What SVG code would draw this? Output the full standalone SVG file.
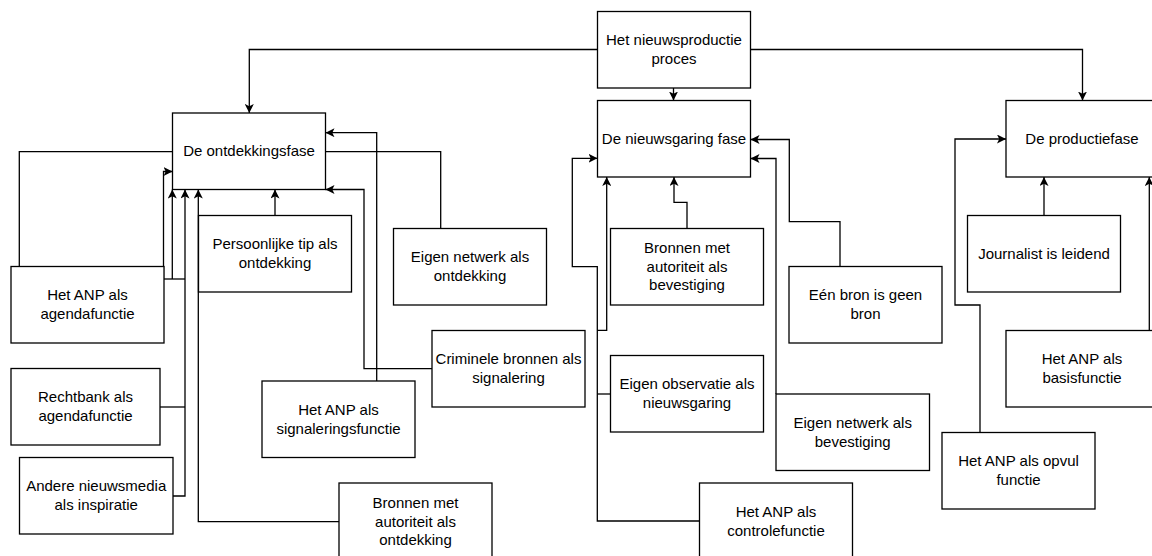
<svg xmlns="http://www.w3.org/2000/svg" width="1152" height="556" viewBox="0 0 1152 556">
<style>
.box{fill:#fff;stroke:#000;stroke-width:1.3}
.lbl{font-family:"Liberation Sans",Arial,sans-serif;font-size:15px;text-anchor:middle;fill:#000}
.edge{fill:none;stroke:#000;stroke-width:1.3}
.arr{marker-end:url(#ah)}
</style>
<defs>
<marker id="ah" markerUnits="userSpaceOnUse" viewBox="0 0 9 9" refX="9" refY="4.5" markerWidth="9" markerHeight="9" orient="auto">
<path d="M0,0 L9,4.5 L0,9 L2.2,4.5 Z" fill="#000"/>
</marker>
</defs>
<rect width="1152" height="556" fill="#fff"/>
<g id="connectors">
<path class="edge arr" d="M597.5,49.5 L249.3,49.5 L249.3,113"/>
<path class="edge arr" d="M750.5,49.5 L1082.5,49.5 L1082.5,100.5"/>
<path class="edge arr" d="M673.5,88 L673.5,100.5"/>
<path class="edge" d="M440.7,228.5 L440.7,151.7 L19.3,151.7 L19.3,266.5"/>
<path class="edge arr" d="M163.5,279 L163.5,171.5 L172.5,171.5"/>
<path class="edge" d="M164,279 L185,279"/>
<path class="edge arr" d="M172.3,279 L172.3,189.5"/>
<path class="edge" d="M160,407 L185,407"/>
<path class="edge arr" d="M173,496 L185,496 L185,189.5"/>
<path class="edge arr" d="M339,521.7 L198.3,521.7 L198.3,189.5"/>
<path class="edge arr" d="M275,215.5 L275,189.5"/>
<path class="edge arr" d="M376.7,381 L376.7,132.7 L325.5,132.7"/>
<path class="edge arr" d="M432,368.7 L364,368.7 L364,189.5 L325.5,189.5"/>
<path class="edge arr" d="M699.5,521 L597.3,521 L597.3,266.7 L572.3,266.7 L572.3,158.3 L597.5,158.3"/>
<path class="edge" d="M610.5,394 L597.3,394"/>
<path class="edge arr" d="M597.3,330.3 L606.7,330.3 L606.7,177"/>
<path class="edge arr" d="M687,228.5 L687,202.3 L674,202.3 L674,177"/>
<path class="edge arr" d="M840,266.5 L840,221.7 L789.3,221.7 L789.3,139.5 L750.5,139.5"/>
<path class="edge arr" d="M776,394 L776,158.5 L750.5,158.5"/>
<path class="edge arr" d="M980,432.5 L980,305 L955,305 L955,139 L1006,139"/>
<path class="edge arr" d="M1044,215.5 L1044,177"/>
<path class="edge arr" d="M1149.3,330.5 L1149.3,177"/>
</g>
<g id="proces"><rect class="box" x="597.5" y="11.5" width="153" height="76.5"/><text class="lbl" x="674" y="45.4">Het nieuwsproductie<tspan x="674" y="64.1">proces</tspan></text></g>
<g id="nieuwsgaring"><rect class="box" x="597.5" y="100.5" width="153" height="76.5"/><text class="lbl" x="674" y="143.7">De nieuwsgaring fase</text></g>
<g id="ontdekkingsfase"><rect class="box" x="172.5" y="113" width="153" height="76.5"/><text class="lbl" x="249" y="156.3">De ontdekkingsfase</text></g>
<g id="productiefase"><rect class="box" x="1006" y="100.5" width="153" height="76.5"/><text class="lbl" x="1082" y="143.7">De productiefase</text></g>
<g id="persoonlijke-tip"><rect class="box" x="198.5" y="215.5" width="153" height="76.5"/><text class="lbl" x="275" y="249.4">Persoonlijke tip als<tspan x="275" y="268.1">ontdekking</tspan></text></g>
<g id="anp-agenda"><rect class="box" x="11" y="266.5" width="153" height="76.5"/><text class="lbl" x="87.5" y="300.4">Het ANP als<tspan x="87.5" y="319.1">agendafunctie</tspan></text></g>
<g id="rechtbank"><rect class="box" x="11" y="368.5" width="149" height="76.5"/><text class="lbl" x="85.5" y="402.4">Rechtbank als<tspan x="85.5" y="421.1">agendafunctie</tspan></text></g>
<g id="andere-media"><rect class="box" x="19.5" y="457.5" width="153.5" height="76.5"/><text class="lbl" x="96.2" y="491.4">Andere nieuwsmedia<tspan x="96.2" y="510.1">als inspiratie</tspan></text></g>
<g id="anp-signalering"><rect class="box" x="262" y="381" width="153" height="76.5"/><text class="lbl" x="338.5" y="414.9">Het ANP als<tspan x="338.5" y="433.6">signaleringsfunctie</tspan></text></g>
<g id="bronnen-ontdekking"><rect class="box" x="339" y="483" width="153" height="76.5"/><text class="lbl" x="415.5" y="508">Bronnen met<tspan x="415.5" y="526.5">autoriteit als</tspan><tspan x="415.5" y="545">ontdekking</tspan></text></g>
<g id="netwerk-ontdekking"><rect class="box" x="393.5" y="228.5" width="153" height="76.5"/><text class="lbl" x="470" y="262.4">Eigen netwerk als<tspan x="470" y="281.1">ontdekking</tspan></text></g>
<g id="criminele"><rect class="box" x="432" y="330.5" width="153" height="76.5"/><text class="lbl" x="508.5" y="364.4">Criminele bronnen als<tspan x="508.5" y="383.1">signalering</tspan></text></g>
<g id="bronnen-bevestiging"><rect class="box" x="610.5" y="228.5" width="153" height="76.5"/><text class="lbl" x="687" y="253.3">Bronnen met<tspan x="687" y="271.8">autoriteit als</tspan><tspan x="687" y="290.3">bevestiging</tspan></text></g>
<g id="observatie"><rect class="box" x="610.5" y="355.5" width="153" height="76.5"/><text class="lbl" x="687" y="389.4">Eigen observatie als<tspan x="687" y="408.1">nieuwsgaring</tspan></text></g>
<g id="anp-controle"><rect class="box" x="699.5" y="483" width="153" height="76.5"/><text class="lbl" x="776" y="516.9">Het ANP als<tspan x="776" y="535.6">controlefunctie</tspan></text></g>
<g id="een-bron"><rect class="box" x="789" y="266.5" width="153" height="76.5"/><text class="lbl" x="865.5" y="300.4">Eén bron is geen<tspan x="865.5" y="319.1">bron</tspan></text></g>
<g id="netwerk-bevestiging"><rect class="box" x="776" y="394" width="153.5" height="76.5"/><text class="lbl" x="852.7" y="427.9">Eigen netwerk als<tspan x="852.7" y="446.6">bevestiging</tspan></text></g>
<g id="journalist"><rect class="box" x="967.5" y="215.5" width="153" height="76.5"/><text class="lbl" x="1044" y="258.8">Journalist is leidend</text></g>
<g id="anp-basis"><rect class="box" x="1006" y="330.5" width="153" height="76.5"/><text class="lbl" x="1082" y="364.4">Het ANP als<tspan x="1082" y="383.1">basisfunctie</tspan></text></g>
<g id="anp-opvul"><rect class="box" x="942" y="432.5" width="153" height="76.5"/><text class="lbl" x="1018.5" y="466.4">Het ANP als opvul<tspan x="1018.5" y="485.1">functie</tspan></text></g>
</svg>
